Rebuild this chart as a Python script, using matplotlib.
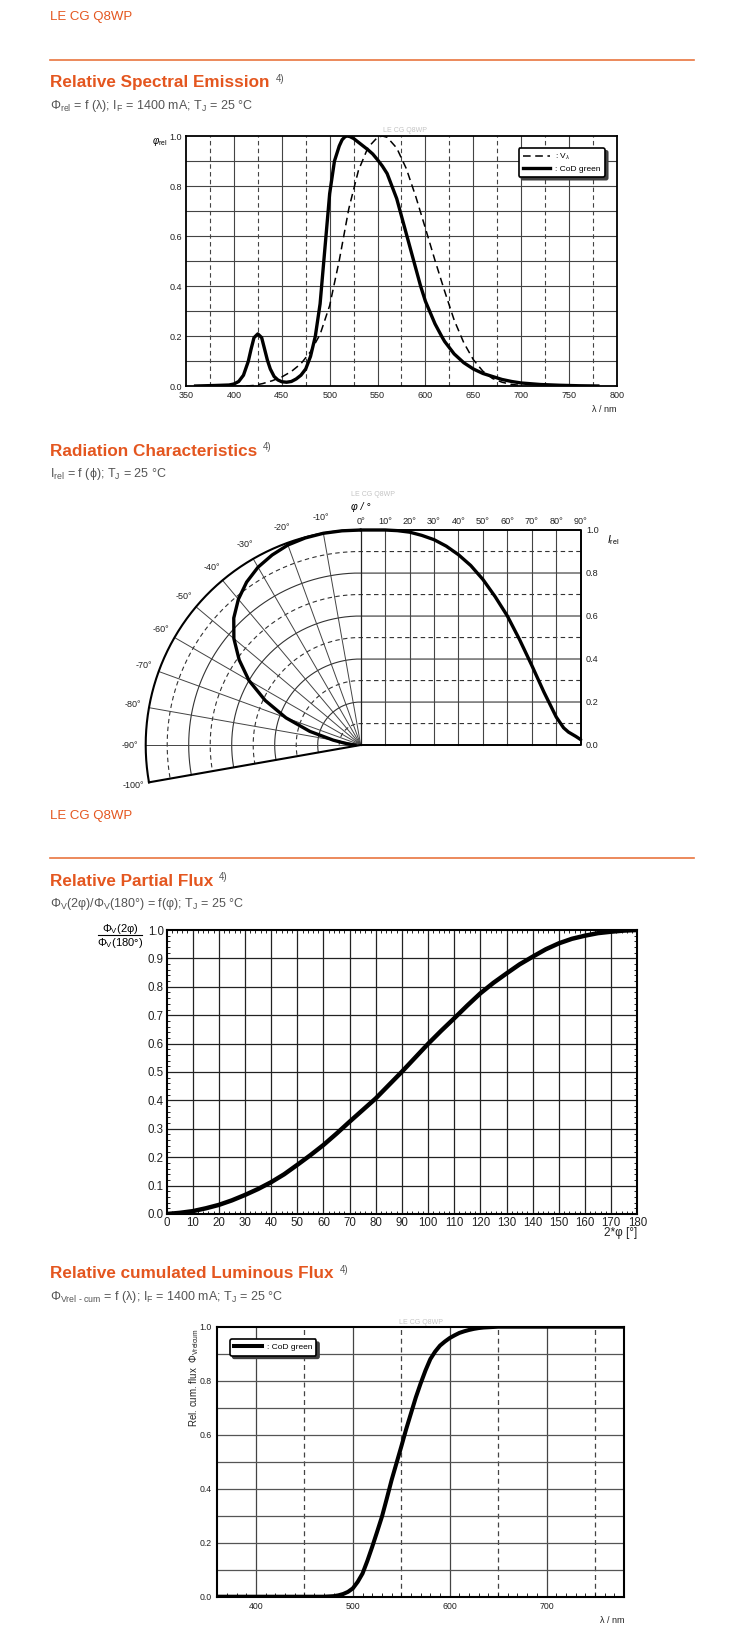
import numpy as np
import matplotlib
matplotlib.use("Agg")
import matplotlib.pyplot as plt

plt.rcParams['font.family'] = ['Liberation Sans', 'DejaVu Sans']
plt.rcParams['mathtext.fontset'] = 'custom'
plt.rcParams['mathtext.rm'] = 'Liberation Sans'
plt.rcParams['mathtext.it'] = 'Liberation Sans:italic'
plt.rcParams['mathtext.bf'] = 'Liberation Sans:bold'

# ---- data ----
# relative spectral emission, CoD green
cod_wl = [360, 380, 395, 400, 405, 410, 415, 418, 421, 425, 429, 432, 435, 438, 442, 446, 450, 455, 460, 465, 470,
          475, 480, 485, 490, 495, 500, 505, 510, 513, 516, 518, 521, 525, 530, 540, 545, 550, 555, 560, 565, 570, 575, 580,
          585, 590, 595, 600, 610, 617, 620, 630, 640, 650, 660, 670, 680, 690, 700, 720, 740, 760, 780]
cod_val = [0.002, 0.004, 0.006, 0.01, 0.02, 0.045, 0.1, 0.15, 0.195, 0.21, 0.195, 0.15, 0.105, 0.07, 0.04, 0.026, 0.019, 0.017, 0.02, 0.03, 0.045,
           0.07, 0.12, 0.2, 0.33, 0.55, 0.77, 0.9, 0.96, 0.985, 0.997, 1.0, 0.998, 0.99, 0.975, 0.945, 0.928, 0.905, 0.88, 0.85, 0.8, 0.75, 0.68, 0.61,
           0.54, 0.47, 0.4, 0.34, 0.25, 0.2, 0.18, 0.13, 0.095, 0.07, 0.052, 0.04, 0.028, 0.02, 0.014, 0.008, 0.005, 0.003, 0.002]
# eye sensitivity V(lambda)
v_wl = [400, 410, 420, 430, 440, 450, 460, 470, 480, 490, 500, 510, 520, 530, 540, 550, 555, 560,
        570, 580, 590, 600, 610, 620, 630, 640, 650, 660, 670, 680, 690, 700]
v_val = [0.0004, 0.0012, 0.004, 0.0116, 0.023, 0.038, 0.06, 0.091, 0.139, 0.208, 0.323, 0.503, 0.71, 0.862, 0.954, 0.995, 1.0, 0.995,
         0.952, 0.87, 0.757, 0.631, 0.503, 0.381, 0.265, 0.175, 0.107, 0.061, 0.032, 0.017, 0.0082, 0.0041]

# radiation characteristics
phi_deg = [0, 5, 10, 15, 20, 25, 30, 35, 40, 45, 50, 55, 60, 65, 70, 75, 80, 83, 85, 88, 90]
i_rel = [1.0, 1.0, 1.0, 0.997, 0.99, 0.975, 0.955, 0.925, 0.885, 0.835, 0.77, 0.69, 0.6, 0.49, 0.37, 0.245, 0.13, 0.08, 0.06, 0.04, 0.025]

# relative partial flux
two_phi = [0, 5, 10, 15, 20, 25, 30, 35, 40, 45, 50, 55, 60, 65, 70, 75, 80, 85, 90,
           95, 100, 105, 110, 115, 120, 125, 130, 135, 140, 145, 150, 155, 160, 165, 170, 175, 180]
part_flux = [0.0, 0.004, 0.01, 0.02, 0.032, 0.048, 0.067, 0.088, 0.112, 0.14, 0.173, 0.207, 0.243, 0.283, 0.325, 0.366, 0.407, 0.454, 0.501,
             0.55, 0.599, 0.645, 0.689, 0.734, 0.777, 0.814, 0.847, 0.879, 0.906, 0.932, 0.953, 0.969, 0.98, 0.989, 0.994, 0.998, 1.0]

# relative cumulated luminous flux
cum_wl = [360, 400, 450, 470, 480, 485, 490, 495, 500, 505, 510, 515, 520, 525, 530, 535, 540, 545, 550, 555, 560, 565, 570,
          575, 580, 585, 590, 595, 600, 605, 610, 615, 620, 625, 630, 635, 640, 650, 700, 780]
cum_val = [0, 0, 0, 0, 0.002, 0.005, 0.01, 0.018, 0.031, 0.055, 0.086, 0.133, 0.185, 0.24, 0.296, 0.363, 0.432, 0.494, 0.556, 0.62, 0.679, 0.738, 0.79,
           0.838, 0.88, 0.908, 0.93, 0.945, 0.958, 0.968, 0.977, 0.983, 0.988, 0.992, 0.995, 0.997, 0.998, 1.0, 1.0, 1.0]

ORANGE = '#e4561f'
LINE_OR = '#e9763f'
GREY = '#555555'
WM = '#c4c4c4'

W, H = 750, 1642
fig = plt.figure(figsize=(W / 100, H / 100), dpi=100)


def fx(x):
    return x / W


def fy(y):
    return 1 - y / H


def rect(x0, y0, x1, y1):
    return [fx(x0), fy(y1), (x1 - x0) / W, (y1 - y0) / H]


renderer = fig.canvas.get_renderer()


def heading(y, title, sub):
    t = fig.text(fx(50), fy(y), title, color=ORANGE, fontsize=12.3, fontweight='bold', va='center')
    bb = t.get_window_extent(renderer)
    fig.text((bb.x1 + 6) / W, fy(y - 4), '4)', color=GREY, fontsize=7, va='center')
    fig.text(fx(50), fy(y + 22.5), sub, color=GREY, fontsize=9, va='center')


def header(y_txt, y_line):
    fig.text(fx(50), fy(y_txt), 'LE CG Q8WP', color=ORANGE, fontsize=9.5, va='center')
    fig.add_artist(plt.Line2D([fx(50), fx(694)], [fy(y_line), fy(y_line)], color=LINE_OR, lw=1.2))


header(17, 60)
heading(83, 'Relative Spectral Emission',
        r'Φ$_{\mathrm{rel}}$ = f (λ); I$_{\mathrm{F}}$ = 1400 mA; T$_{\mathrm{J}}$ = 25 °C')
heading(451.5, 'Radiation Characteristics',
        r'I$_{\mathrm{rel}}$ = f (ϕ); T$_{\mathrm{J}}$ = 25 °C')
header(816, 858)
heading(881, 'Relative Partial Flux',
        r'Φ$_{\mathrm{V}}$(2φ)/Φ$_{\mathrm{V}}$(180°) = f(φ); T$_{\mathrm{J}}$ = 25 °C')
heading(1274, 'Relative cumulated Luminous Flux',
        r'Φ$_{\mathrm{Vrel\ ‐\ cum}}$ = f (λ); I$_{\mathrm{F}}$ = 1400 mA; T$_{\mathrm{J}}$ = 25 °C')


def legend_box(ax, **kw):
    leg = ax.legend(frameon=True, fancybox=True, fontsize=6, handlelength=3.3, handletextpad=0.6,
                    borderaxespad=0, borderpad=0.5, labelspacing=0.3,
                    shadow={'color': '0.25', 'alpha': 1}, **kw)
    fr = leg.get_frame()
    fr.set_edgecolor('black')
    fr.set_linewidth(1.2)
    fr.set_alpha(1)
    return leg


# ---- relative spectral emission ----
ax1 = fig.add_axes(rect(186, 136, 617, 386.5))
for x in range(375, 800, 25):
    ax1.axvline(x, color='#444', lw=0.8, ls='-' if x % 50 == 0 else (0, (4, 3)), zorder=1)
for y in np.arange(0.1, 1.0, 0.1):
    ax1.axhline(y, color='#444', lw=0.8, zorder=1)
ax1.plot(v_wl, v_val, color='black', lw=1.1, ls=(0, (5, 3)), label=r': V$_{\lambda}$', zorder=3)
ax1.plot(cod_wl, cod_val, color='black', lw=2.4, label=': CoD green', zorder=3,
         solid_joinstyle='round')
ax1.set_xlim(350, 800)
ax1.set_ylim(0, 1)
ax1.set_xticks(range(350, 801, 50))
ax1.set_yticks(np.arange(0, 1.01, 0.2))
ax1.set_yticklabels([f'{v:.1f}' for v in np.arange(0, 1.01, 0.2)])
ax1.tick_params(length=0, labelsize=6.5, pad=3, colors='#222')
for s in ax1.spines.values():
    s.set_linewidth(1.3)
legend_box(ax1, loc='upper right', bbox_to_anchor=(0.972, 0.952))
fig.text(fx(160), fy(142), r'$\mathit{φ}_{\mathrm{rel}}$', fontsize=7, ha='center', va='center')
fig.text(fx(617), fy(409), 'λ / nm', fontsize=6.5, ha='right', va='center', color='#222')
fig.text(fx(405), fy(131), 'LE CG Q8WP', fontsize=5, color=WM, ha='center', va='center')

# ---- radiation characteristics ----
S = 215.0            # px per unit intensity
ox_px, oy_px = 360.7, 745
WR = 220.0 / S       # width of the 0..90 deg panel
ax2 = fig.add_axes(rect(100, 480, 640, 800))
ax2.set_xlim(-(ox_px - 100) / S, (640 - ox_px) / S)
ax2.set_ylim(-(800 - oy_px) / S, (oy_px - 480) / S)
ax2.axis('off')

th = np.radians(np.linspace(0, 100, 201))
for k in range(1, 10):
    r = k / 10
    xs = np.concatenate([[WR, 0], -r * np.sin(th)])
    ys = np.concatenate([[r, r], r * np.cos(th)])
    ax2.plot(xs, ys, color='#333', lw=0.8, ls='-' if k % 2 == 0 else (0, (4, 3)))
for a in range(10, 100, 10):
    t = np.radians(a)
    ax2.plot([0, -np.sin(t)], [0, np.cos(t)], color='#444', lw=0.7)
for a in range(10, 90, 10):
    ax2.plot([a / 90 * WR] * 2, [0, 1], color='#444', lw=0.8)
ax2.plot([0, 0], [0, 1], color='#222', lw=0.9)
ax2.plot(-np.sin(th), np.cos(th), color='black', lw=1.5)
t100 = np.radians(100)
ax2.plot([0, -np.sin(t100)], [0, np.cos(t100)], color='black', lw=1.5)
ax2.plot([0, WR, WR, 0], [1, 1, 0, 0], color='black', lw=1.4)

ph = np.radians(phi_deg)
ir = np.array(i_rel)
ax2.plot(-ir * np.sin(ph), ir * np.cos(ph), color='black', lw=2.4, solid_capstyle='round', solid_joinstyle='round')
ax2.plot(np.array(phi_deg) / 90 * WR, ir, color='black', lw=2.4, solid_capstyle='round', solid_joinstyle='round')

for a in range(10, 101, 10):
    t = np.radians(a)
    ax2.text(-1.075 * np.sin(t), 1.075 * np.cos(t), f'-{a}°', fontsize=6.5, ha='center', va='center', color='#222')
for a in range(0, 91, 10):
    ax2.text(a / 90 * WR, 1.04, f'{a}°', fontsize=6.6, ha='center', va='center', color='#222')
for v in np.arange(0, 1.01, 0.2):
    ax2.text(WR + 0.025, v, f'{v:.1f}', fontsize=6.6, ha='left', va='center', color='#222')
ax2.text(0.0, 1.105, 'φ / °', fontsize=7.5, style='italic', ha='center', va='center')
ax2.text(1.175, 0.955, r'$\mathit{I}_{\mathrm{rel}}$', fontsize=7.5, ha='center', va='center')
ax2.text(0.057, 1.167, 'LE CG Q8WP', fontsize=5, color=WM, ha='center', va='center')

# ---- relative partial flux ----
ax3 = fig.add_axes(rect(166.5, 930, 637.3, 1214))
for x in range(10, 180, 10):
    ax3.axvline(x, color='#222', lw=0.9, zorder=1)
for y in np.arange(0.1, 1.0, 0.1):
    ax3.axhline(y, color='#222', lw=0.9, zorder=1)
ax3.plot(two_phi, part_flux, color='black', lw=3.2, zorder=3, solid_capstyle='round', solid_joinstyle='round')
ax3.set_xlim(0, 180)
ax3.set_ylim(0, 1)
ax3.set_xticks(range(0, 181, 10))
ax3.set_yticks(np.arange(0, 1.01, 0.1))
ax3.set_yticklabels([f'{v:.1f}' for v in np.arange(0, 1.01, 0.1)])
ax3.set_xticks(range(0, 181, 2), minor=True)
ax3.set_yticks(np.arange(0, 1.001, 0.02), minor=True)
ax3.tick_params(which='major', length=0, labelsize=8.3, pad=2, colors='#222')
ax3.tick_params(which='minor', direction='in', length=2, width=0.6, top=True, right=True)
for s in ax3.spines.values():
    s.set_linewidth(1.5)
fig.text(fx(637), fy(1233), '2*φ [°]', fontsize=8.5, ha='right', va='center', color='#222')
fig.text(fx(120), fy(929), r'Φ$_{\mathrm{V}}$(2φ)', fontsize=8, ha='center', va='center')
fig.add_artist(plt.Line2D([fx(98), fx(142)], [fy(935.5), fy(935.5)], color='black', lw=0.8))
fig.text(fx(120), fy(943), r'Φ$_{\mathrm{V}}$(180°)', fontsize=8, ha='center', va='center')

# ---- relative cumulated luminous flux ----
ax4 = fig.add_axes(rect(217.3, 1326.7, 624, 1596.7))
for x in range(400, 780, 50):
    ax4.axvline(x, color='#444', lw=0.9, ls='-' if x % 100 == 0 else (0, (4, 3)), zorder=1)
for y in np.arange(0.1, 1.0, 0.1):
    ax4.axhline(y, color='#555', lw=0.9, zorder=1)
ax4.plot(cum_wl, cum_val, color='black', lw=2.9, label=': CoD green', zorder=3, solid_joinstyle='round')
ax4.set_xlim(360, 780)
ax4.set_ylim(0, 1)
ax4.set_xticks([400, 500, 600, 700])
ax4.set_yticks(np.arange(0, 1.01, 0.2))
ax4.set_yticklabels([f'{v:.1f}' for v in np.arange(0, 1.01, 0.2)])
ax4.set_xticks(range(370, 781, 10), minor=True)
ax4.tick_params(which='major', length=0, labelsize=6.3, pad=4, colors='#222')
ax4.tick_params(which='minor', axis='x', direction='in', length=3, width=0.6)
for s in ax4.spines.values():
    s.set_linewidth(1.5)
legend_box(ax4, loc='upper left', bbox_to_anchor=(0.031, 0.953))
fig.text(fx(194), fy(1328), r'Rel. cum. flux  Φ$_{\mathrm{Vrelcum}}$', fontsize=7, rotation=90,
         ha='center', va='top', color='#222')
fig.text(fx(624), fy(1620), 'λ / nm', fontsize=6.5, ha='right', va='center', color='#222')
fig.text(fx(421), fy(1322), 'LE CG Q8WP', fontsize=5, color=WM, ha='center', va='center')

fig.savefig('out.png', dpi=100, facecolor='white')
